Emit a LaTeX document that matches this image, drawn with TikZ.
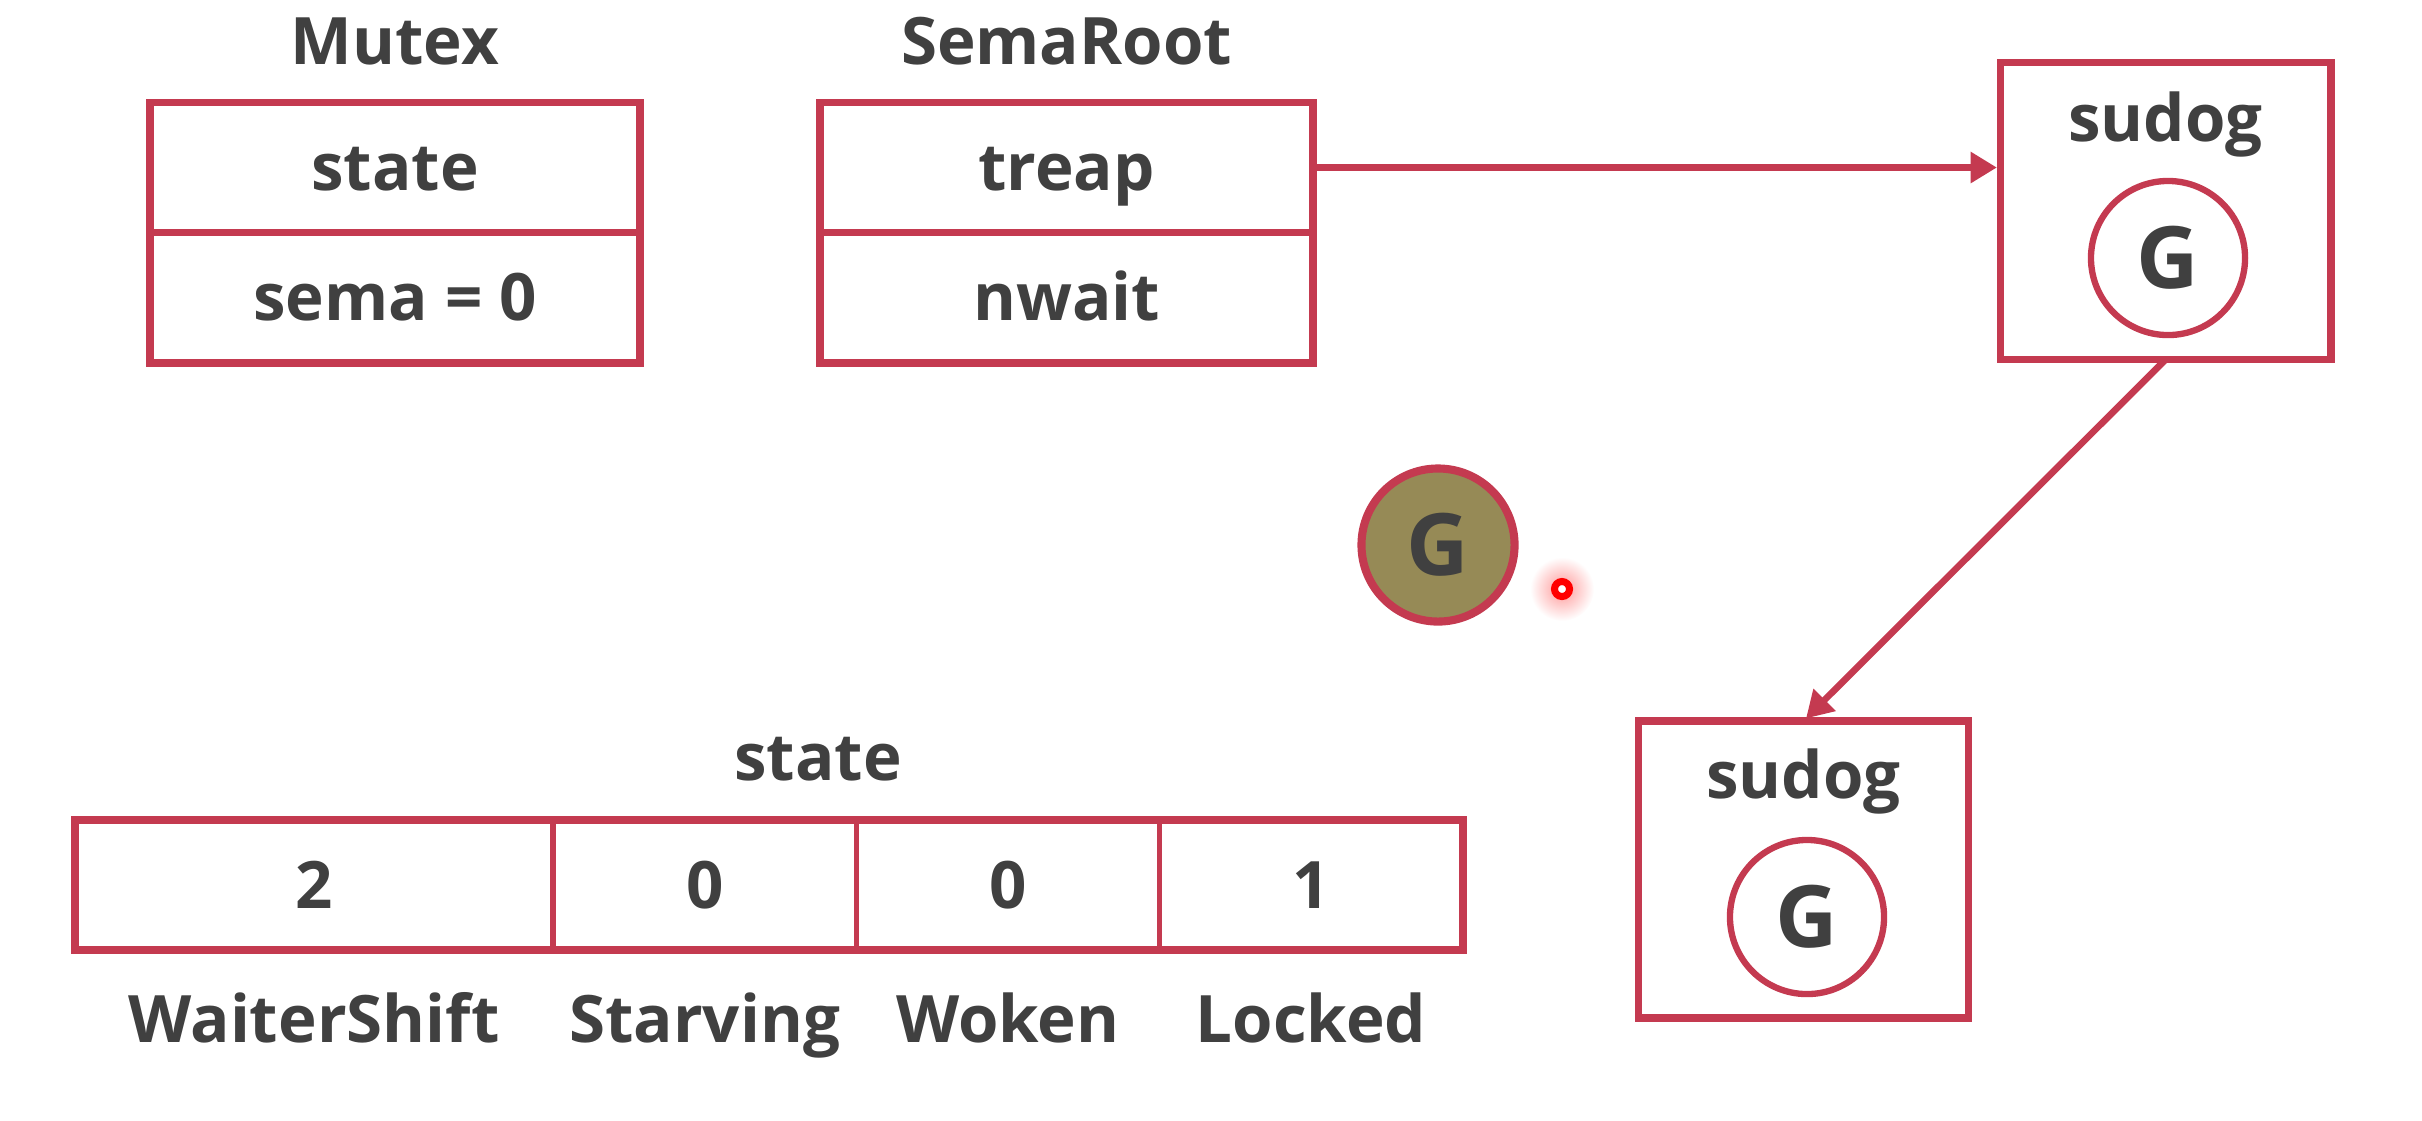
\documentclass[tikz,border=0pt]{standalone}
\usepackage{fontspec}
\setmainfont{Open Sans}
\usepackage{xcolor}
\usepackage{tikz}
\usetikzlibrary{arrows.meta,shapes,positioning,calc}
\definecolor{boxred}{RGB}{196,58,80}
\definecolor{txtgray}{RGB}{64,64,64}
\definecolor{gold}{RGB}{150,138,86}

\begin{document}
\begin{tikzpicture}[x=0.01cm,y=-0.01cm,>={Triangle[length=7.5pt,width=8.5pt]}]
	\tikzstyle{every node}=[font=\fontsize{18.6}{23}\selectfont\bfseries,text=txtgray]
	\tikzstyle{field}=[draw=boxred,line width=2.2pt,outer sep=0pt,minimum height=1.3cm,text height=13.3pt,text depth=0pt]
	\tikzstyle{bit}=[draw=boxred,line width=1.6pt,outer sep=0pt,minimum height=1.3cm,minimum width=3.03cm,text height=13.3pt,text depth=0pt]
	\tikzstyle{sudogbox}=[draw=boxred,line width=2.2pt,outer sep=0pt,minimum width=3.3cm,minimum height=2.97cm]
	\tikzstyle{gslot}=[circle,draw=boxred,line width=1.8pt,outer sep=0pt,inner sep=0pt,minimum size=1.54cm,font=\fontsize{24.5}{28}\selectfont\bfseries,text height=17.5pt,text depth=0pt]
	\tikzstyle{link}=[->,draw=boxred,line width=1.9pt,shorten >=1pt]
	\useasboundingbox (0,0) rectangle (2422,1120);
	
	% Mutex
	\node[anchor=base](mutex) at (395,64){Mutex};
	\node[field,minimum width=4.9cm](mstate) at (395,167.5){state};
	\node[field,minimum width=4.9cm](msema)[below=0pt of mstate]{sema = 0};
	
	% SemaRoot
	\node[anchor=base](semaroot) at (1066.5,64){SemaRoot};
	\node[field,minimum width=4.93cm](treap) at (1066.5,167.5){treap};
	\node[field,minimum width=4.93cm](nwait)[below=0pt of treap]{nwait};
	
	% waiting sudogs
	\node[sudogbox](sudog1) at (2165.5,211){};
	\node[anchor=base](s1name) at (2165.5,141){sudog};
	\node[gslot](g1) at (2168,258){G};
	\node[sudogbox](sudog2) at (1803.5,869.5){};
	\node[anchor=base](s2name) at (1803.5,798){sudog};
	\node[gslot](g2) at (1807,917){G};
	
	\draw[link] (treap.east) -- (treap.east -| sudog1.west);
	\draw[link] (sudog1.south) -- (sudog2.north);
	
	% goroutine
	\node[gslot,fill=gold,line width=2.3pt,minimum size=1.53cm](gwait) at (1438,545){G};
	\shade[inner color=red!40,outer color=white] (1562,589) circle (32);
	\node[circle,draw=red,fill=white,line width=2pt,inner sep=0pt,minimum size=0.15cm](dot) at (1562,589){};
	
	% state bits
	\node[anchor=base](statename) at (818,780){state};
	\node[bit,minimum width=4.78cm](waiter) at (314,885){2};
	\node[bit](starving)[right=0pt of waiter]{0};
	\node[bit](woken)[right=0pt of starving]{0};
	\node[bit](locked)[right=0pt of woken]{1};
	\draw[draw=boxred,line width=2.2pt] (waiter.north west) rectangle (locked.south east);
	
	\node[anchor=base](lwaiter) at (waiter.center |- 0,1042){WaiterShift};
	\node[anchor=base](lstarving) at (starving.center |- 0,1042){Starving};
	\node[anchor=base](lwoken) at (woken.center |- 0,1042){Woken};
	\node[anchor=base](llocked) at (locked.center |- 0,1042){Locked};
\end{tikzpicture}
\end{document}
